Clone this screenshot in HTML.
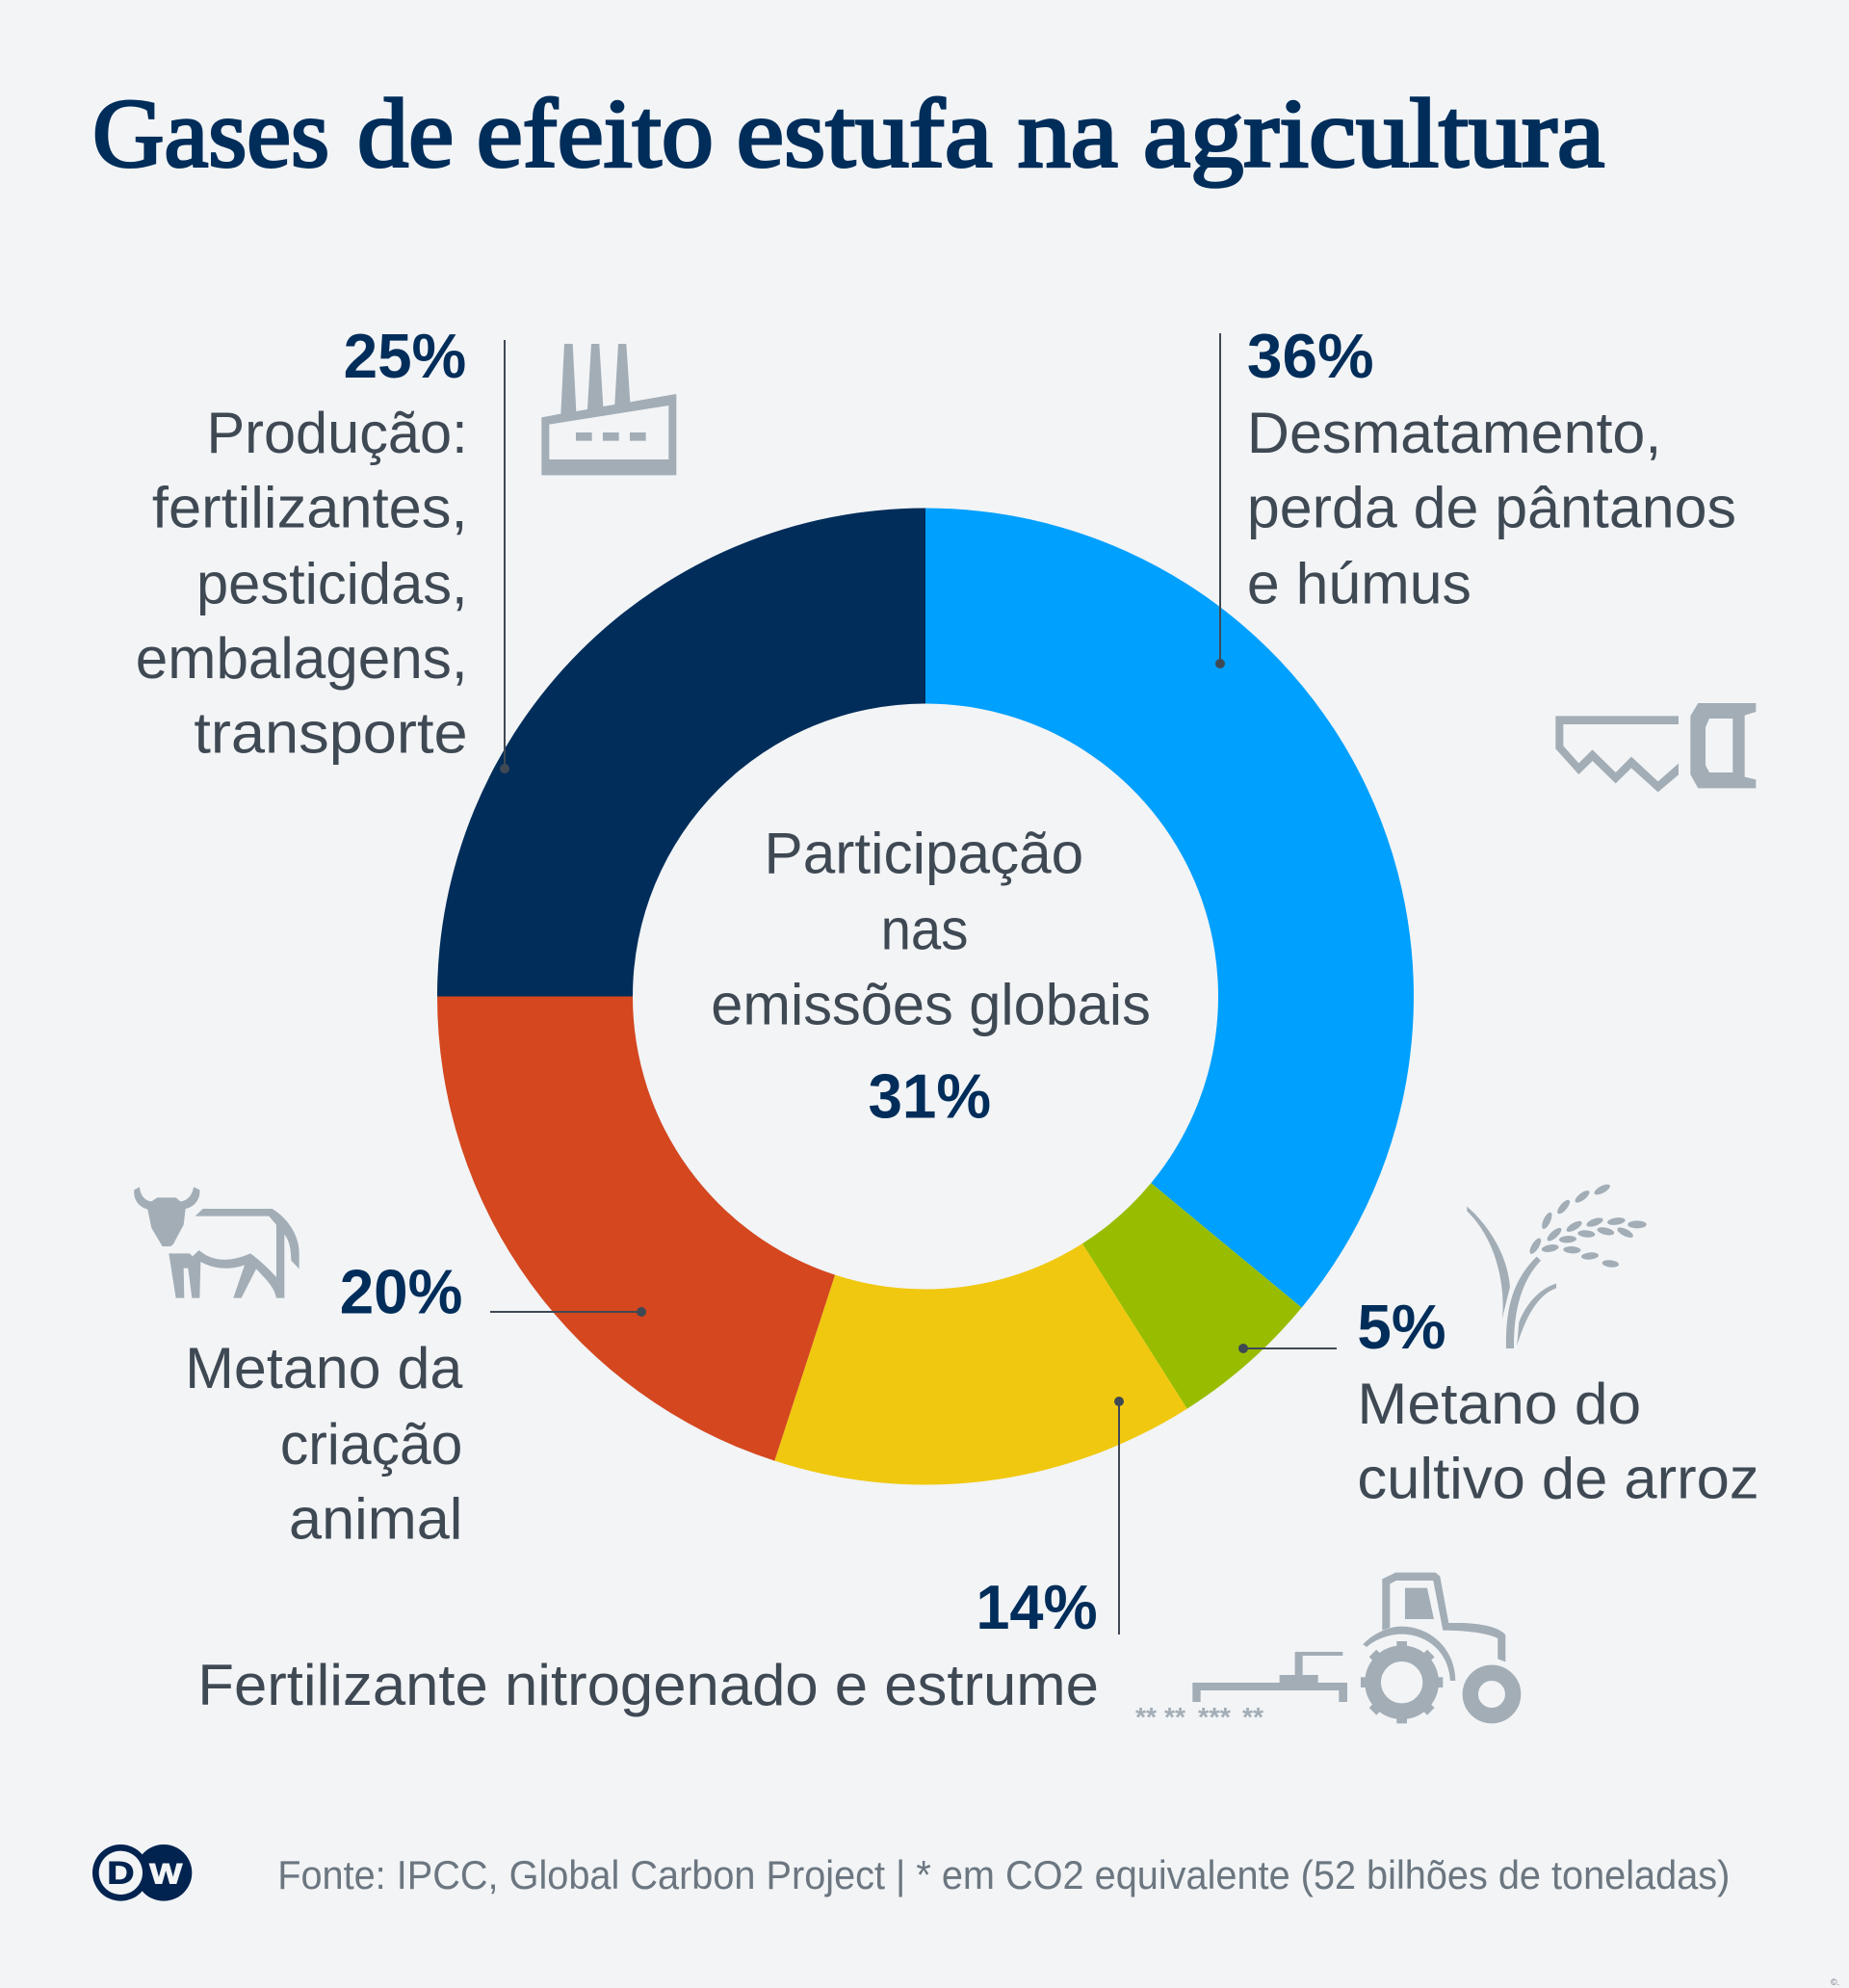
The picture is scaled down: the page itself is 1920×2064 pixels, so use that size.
<!DOCTYPE html>
<html lang="pt">
<head>
<meta charset="utf-8">
<title>Gases de efeito estufa na agricultura</title>
<style>
html,body{margin:0;padding:0;background:#f2f4f6;}
svg{display:block;}
.b{font-family:"Liberation Sans",sans-serif;font-size:45.5px;fill:#3f4954;}
.p{font-family:"Liberation Sans",sans-serif;font-size:49px;font-weight:bold;fill:#002d5a;}
.i{fill:#a2adb6;}
.l{stroke:#3f4954;stroke-width:2;fill:none;}
.d{fill:#3f4954;}
</style>
</head>
<body>
<svg id="chart" xmlns="http://www.w3.org/2000/svg" width="1920" height="2064" viewBox="0 0 1920 2064">
<rect width="1920" height="2064" fill="#f2f4f6"/>
<g id="donut"></g>

<g>
<path class="l" d="M524 353V798"/><circle class="d" cx="524" cy="798" r="5"/>
<path class="l" d="M1267 346V689"/><circle class="d" cx="1267" cy="689" r="5"/>
<path class="l" d="M509 1362H666"/><circle class="d" cx="666" cy="1362" r="5"/>
<path class="l" d="M1388 1400H1291"/><circle class="d" cx="1291" cy="1400" r="5"/>
<path class="l" d="M1162 1455V1697"/><circle class="d" cx="1162" cy="1455" r="5"/>
</g>

<g transform="scale(1.316)">
<g style="font-family:'Liberation Serif',serif;font-size:77px;fill:#002d5a;stroke:#002d5a;stroke-width:2.3px;">
<text x="73" y="131" textLength="187" lengthAdjust="spacingAndGlyphs">Gases</text>
<text x="282" y="131" textLength="76" lengthAdjust="spacingAndGlyphs">de</text>
<text x="376" y="131" textLength="187" lengthAdjust="spacingAndGlyphs">efeito</text>
<text x="581" y="131" textLength="202" lengthAdjust="spacingAndGlyphs">estufa</text>
<text x="803" y="131" textLength="79" lengthAdjust="spacingAndGlyphs">na</text>
<text x="902" y="131" textLength="364" lengthAdjust="spacingAndGlyphs">agricultura</text>
</g>

<text id="pct-production" class="p" x="271" y="298" textLength="97" lengthAdjust="spacingAndGlyphs">25%</text>
<text class="b" x="163" y="357" textLength="206" lengthAdjust="spacingAndGlyphs">Produção:</text>
<text class="b" x="120" y="416" textLength="249" lengthAdjust="spacingAndGlyphs">fertilizantes,</text>
<text class="b" x="155" y="476" textLength="214" lengthAdjust="spacingAndGlyphs">pesticidas,</text>
<text class="b" x="107" y="535" textLength="262" lengthAdjust="spacingAndGlyphs">embalagens,</text>
<text class="b" x="153" y="594" textLength="216" lengthAdjust="spacingAndGlyphs">transporte</text>

<text id="pct-deforestation" class="p" x="984" y="298" textLength="100" lengthAdjust="spacingAndGlyphs">36%</text>
<text class="b" x="984" y="357" textLength="327" lengthAdjust="spacingAndGlyphs">Desmatamento,</text>
<text class="b" x="984" y="416" textLength="386" lengthAdjust="spacingAndGlyphs">perda de pântanos</text>
<text class="b" x="984" y="476" textLength="177" lengthAdjust="spacingAndGlyphs">e húmus</text>

<text class="b" x="603" y="689" textLength="252" lengthAdjust="spacingAndGlyphs">Participação</text>
<text class="b" x="695" y="749" textLength="69" lengthAdjust="spacingAndGlyphs">nas</text>
<text class="b" x="561" y="808" textLength="347" lengthAdjust="spacingAndGlyphs">emissões globais</text>
<text id="pct-total" class="p" x="685" y="882" textLength="97" lengthAdjust="spacingAndGlyphs">31%</text>

<text id="pct-livestock" class="p" x="268" y="1036" textLength="97" lengthAdjust="spacingAndGlyphs">20%</text>
<text class="b" x="146" y="1095" textLength="219" lengthAdjust="spacingAndGlyphs">Metano da</text>
<text class="b" x="221" y="1155" textLength="144" lengthAdjust="spacingAndGlyphs">criação</text>
<text class="b" x="228" y="1214" textLength="137" lengthAdjust="spacingAndGlyphs">animal</text>

<text id="pct-rice" class="p" x="1071" y="1064" textLength="70" lengthAdjust="spacingAndGlyphs">5%</text>
<text class="b" x="1071" y="1123" textLength="224" lengthAdjust="spacingAndGlyphs">Metano do</text>
<text class="b" x="1071" y="1182" textLength="317" lengthAdjust="spacingAndGlyphs">cultivo de arroz</text>

<text id="pct-fertilizer" class="p" x="770" y="1285" textLength="96" lengthAdjust="spacingAndGlyphs">14%</text>
<text class="b" x="156" y="1345" textLength="711" lengthAdjust="spacingAndGlyphs">Fertilizante nitrogenado e estrume</text>

<text x="219" y="1490" textLength="1146" lengthAdjust="spacingAndGlyphs" style="font-family:'Liberation Sans',sans-serif;font-size:31.5px;fill:#6b7680;">Fonte: IPCC, Global Carbon Project | * em CO2 equivalente (52 bilhões de toneladas)</text>
</g>

<g class="i" transform="translate(550,340) scale(0.3333)">
<path fill-rule="evenodd" d="M37 460V280L97 269L108 51H134L145 261L180 255L192 51H217L229 246L265 240L276 51H301L313 232L457 207V460ZM61 302V411H433V243Z"/>
<rect x="144" y="327" width="50" height="26"/><rect x="228" y="327" width="50" height="26"/><rect x="312" y="327" width="50" height="26"/>
</g>

<g class="i" transform="translate(1600,710) scale(0.3333)">
<path d="M46 100H429V126H70V193L118 247L161 205L233 276L282 227L365 304L429 248V283L365 337L282 262L233 310L161 240L118 282L46 202Z"/>
<path fill-rule="evenodd" d="M490 60H670V87L635 98V290L670 298V325H490L466 282V100ZM525 108H598V276H525L513 253V135Z"/>
</g>

<g class="i" transform="translate(100,1200) scale(0.3333)">
<path d="M118 106L135 97C136 120 150 140 172 142L190 130H248L262 142C285 140 300 120 303 97L322 106C325 135 305 160 278 165L272 215L240 275L232 282H206L172 225L160 167C135 160 115 140 118 106Z"/>
<path d="M308 188L332 165H548C590 190 630 240 632 300V352L607 326C607 290 600 260 586 245V443H561C555 410 530 385 498 352L452 443H427L462 340C420 355 370 355 325 330L322 443H298L286 350H272L274 443H248L226 304H290L300 313L320 294C350 320 400 340 480 304C510 325 540 355 561 378V215L538 188Z"/>
</g>

<g class="i" transform="translate(1500,1200) scale(0.3333)">
<path d="M70 158C130 210 195 300 204 408L180 506C190 400 160 260 70 172Z"/>
<path d="M192 600C190 480 210 390 287 314L300 326C240 390 215 480 216 600Z"/>
<path d="M348 398V412C300 430 260 480 226 590L232 518C255 460 295 415 348 398Z"/>
<ellipse cx="491" cy="105" rx="27" ry="11" transform="rotate(-28 491 105)"/>
<ellipse cx="429" cy="127" rx="27" ry="11" transform="rotate(-38 429 127)"/>
<ellipse cx="371" cy="159" rx="27" ry="11" transform="rotate(-50 371 159)"/>
<ellipse cx="319" cy="202" rx="28" ry="11" transform="rotate(-65 319 202)"/>
<ellipse cx="283" cy="281" rx="28" ry="11" transform="rotate(-58 283 281)"/>
<ellipse cx="342" cy="245" rx="28" ry="11" transform="rotate(-42 342 245)"/>
<ellipse cx="404" cy="220" rx="27" ry="11" transform="rotate(-30 404 220)"/>
<ellipse cx="468" cy="207" rx="27" ry="11" transform="rotate(-20 468 207)"/>
<ellipse cx="535" cy="204" rx="28" ry="11" transform="rotate(-8 535 204)"/>
<ellipse cx="600" cy="214" rx="29" ry="12"/>
<ellipse cx="563" cy="239" rx="27" ry="11" transform="rotate(27 563 239)"/>
<ellipse cx="502" cy="235" rx="27" ry="11" transform="rotate(13 502 235)"/>
<ellipse cx="442" cy="243" rx="27" ry="11" transform="rotate(5 442 243)"/>
<ellipse cx="384" cy="260" rx="27" ry="11" transform="rotate(-3 384 260)"/>
<ellipse cx="329" cy="288" rx="27" ry="11" transform="rotate(-10 329 288)"/>
<ellipse cx="397" cy="293" rx="27" ry="11" transform="rotate(3 397 293)"/>
<ellipse cx="453" cy="312" rx="27" ry="11" transform="rotate(-5 453 312)"/>
<ellipse cx="517" cy="336" rx="26" ry="11" transform="rotate(6 517 336)"/>
</g>

<g class="i" transform="translate(1150,1600) scale(0.3333)">
<path d="M856 278V118L898 98H1022L1036 110L1063 255H1110C1170 258 1220 268 1240 292V376L1216 367V303C1190 288 1120 278 1045 278L1015 123H900L880 133V270Z"/>
<path d="M796 322C830 285 880 266 915 266C1010 266 1084 340 1084 435H1068C1064 350 1000 290 915 290C880 290 835 305 808 330Z"/>
<path d="M927 146H996L1017 243H927Z"/>
<circle cx="917" cy="440" r="90" fill="none" stroke="#a2adb6" stroke-width="50"/>
<circle cx="1197" cy="477" r="66.5" fill="none" stroke="#a2adb6" stroke-width="49"/>
<rect x="901" y="312" width="32" height="20"/><rect x="901" y="548" width="32" height="20"/>
<rect x="789" y="424" width="20" height="32"/><rect x="1025" y="424" width="20" height="32"/>
<rect x="901" y="312" width="32" height="20" transform="rotate(45 917 440)"/><rect x="901" y="312" width="32" height="20" transform="rotate(135 917 440)"/>
<rect x="901" y="312" width="32" height="20" transform="rotate(225 917 440)"/><rect x="901" y="312" width="32" height="20" transform="rotate(315 917 440)"/>
<path d="M265 501V441H536V417H584V345H733V357H608V417H656V441H747V501H721V465H290V501Z"/>
</g>
<g style="font-family:'Liberation Sans',sans-serif;font-size:28px;font-weight:bold;fill:#a2adb6;">
<text x="1179" y="1792" textLength="22" lengthAdjust="spacingAndGlyphs">**</text>
<text x="1209" y="1792" textLength="22" lengthAdjust="spacingAndGlyphs">**</text>
<text x="1244" y="1792" textLength="34" lengthAdjust="spacingAndGlyphs">***</text>
<text x="1290" y="1792" textLength="22" lengthAdjust="spacingAndGlyphs">**</text>
</g>

<g transform="translate(80,1890) scale(0.3333)">
<circle cx="270" cy="163" r="88" fill="#002350"/>
<circle cx="136" cy="163" r="88" fill="#002350"/>
<circle cx="136" cy="163" r="68" fill="#f2f4f6"/>
<text x="94" y="196" textLength="84" lengthAdjust="spacingAndGlyphs" style="font-family:'Liberation Sans',sans-serif;font-weight:bold;font-size:96px;fill:#002350;stroke:#002350;stroke-width:3px;">D</text>
<text x="226" y="196" textLength="102" lengthAdjust="spacingAndGlyphs" style="font-family:'Liberation Sans',sans-serif;font-weight:bold;font-size:90px;fill:#f2f4f6;stroke:#f2f4f6;stroke-width:3px;">W</text>
</g>

<text x="1901" y="2061" style="font-family:'Liberation Sans',sans-serif;font-size:9px;fill:#6b7680;">©.</text>
</svg>

<script>
var categories = ["Desmatamento", "Metano do cultivo de arroz", "Fertilizante e estrume", "Metano da criação animal", "Produção"];
var shares = [36, 5, 14, 20, 25];
var totalShare = 31;
var sliceColors = ["#00a0ff", "#98bd00", "#f0c80f", "#d4471f", "#002d5a"];
var pctIds = ["pct-deforestation", "pct-rice", "pct-fertilizer", "pct-livestock", "pct-production"];

var cx = 961, cy = 1034.5, rOuter = 507, rInner = 304;

function angleScale(cumulative, sum) {
  return cumulative / sum * 2 * Math.PI;
}
function polar(r, a) {
  return [cx + r * Math.sin(a), cy - r * Math.cos(a)];
}
function slicePath(a0, a1) {
  var large = (a1 - a0) > Math.PI ? 1 : 0;
  var p0 = polar(rOuter, a0), p1 = polar(rOuter, a1), p2 = polar(rInner, a1), p3 = polar(rInner, a0);
  return "M" + p0[0] + " " + p0[1] +
    "A" + rOuter + " " + rOuter + " 0 " + large + " 1 " + p1[0] + " " + p1[1] +
    "L" + p2[0] + " " + p2[1] +
    "A" + rInner + " " + rInner + " 0 " + large + " 0 " + p3[0] + " " + p3[1] + "Z";
}

var donut = document.getElementById("donut");
var sum = shares.reduce(function (a, b) { return a + b; }, 0);
var running = 0;
shares.forEach(function (v, i) {
  var el = document.createElementNS("http://www.w3.org/2000/svg", "path");
  el.setAttribute("d", slicePath(angleScale(running, sum), angleScale(running + v, sum)));
  el.setAttribute("fill", sliceColors[i]);
  
  
  el.setAttribute("aria-label", categories[i] + " " + v + "%");
  donut.appendChild(el);
  document.getElementById(pctIds[i]).textContent = v + "%";
  running += v;
});
document.getElementById("pct-total").textContent = totalShare + "%";
</script>
</body>
</html>
